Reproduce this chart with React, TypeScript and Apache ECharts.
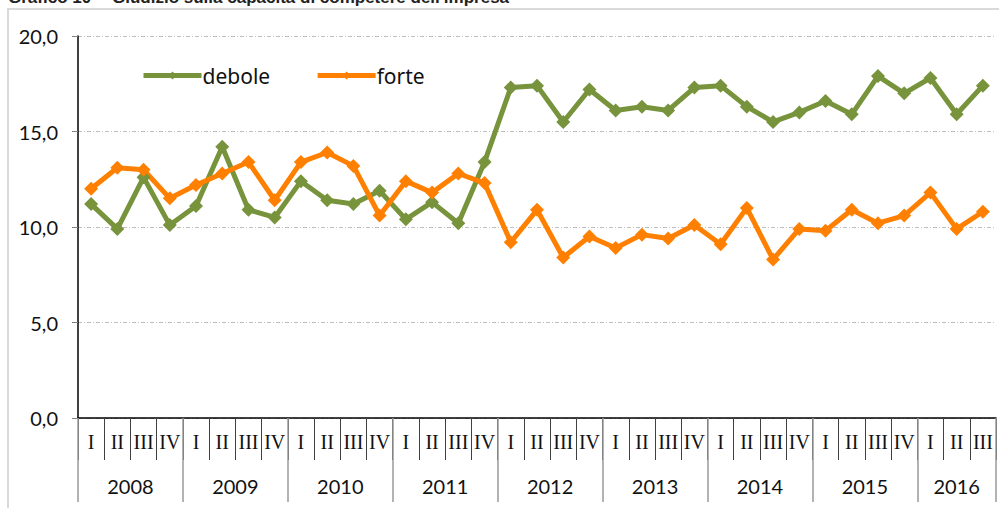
import React, { useEffect, useRef } from "react";
import * as echarts from "echarts";

const years = ["2008", "2009", "2010", "2011", "2012", "2013", "2014", "2015", "2016"];
const quartersPerYear = [4, 4, 4, 4, 4, 4, 4, 4, 3];
const quarterNames = ["I", "II", "III", "IV"];

const debole = [11.2, 9.9, 12.6, 10.1, 11.1, 14.2, 10.9, 10.5, 12.4, 11.4, 11.2, 11.9, 10.4, 11.3, 10.2, 13.4, 17.3, 17.4, 15.5, 17.2, 16.1, 16.3, 16.1, 17.3, 17.4, 16.3, 15.5, 16.0, 16.6, 15.9, 17.9, 17.0, 17.8, 15.9, 17.4];
const forte = [12.0, 13.1, 13.0, 11.5, 12.2, 12.8, 13.4, 11.4, 13.4, 13.9, 13.2, 10.6, 12.4, 11.8, 12.8, 12.3, 9.2, 10.9, 8.4, 9.5, 8.9, 9.6, 9.4, 10.1, 9.1, 11.0, 8.3, 9.9, 9.8, 10.9, 10.2, 10.6, 11.8, 9.9, 10.8];

const titleLabel = "Grafico 10";
const titleText = "Giudizio sulla capacità di competere dell'impresa";

export default function App() {
  const ref = useRef<HTMLDivElement>(null);
  useEffect(() => {
    if (!ref.current) return;
    const chart = echarts.init(ref.current, undefined, { renderer: "svg" });

    const quarters: string[] = [];
    quartersPerYear.forEach((n) => {
      for (let i = 0; i < n; i++) quarters.push(quarterNames[i]);
    });
    const total = quarters.length;
    const halfSlots: string[] = new Array(total * 2 + 1).fill("");
    const boundaries = new Set<number>();
    const labelIdx = new Set<number>();
    let pos = 0;
    years.forEach((y, i) => {
      boundaries.add(pos * 2);
      const mid = pos * 2 + quartersPerYear[i];
      halfSlots[mid] = y;
      labelIdx.add(mid);
      pos += quartersPerYear[i];
    });
    boundaries.add(pos * 2);

    chart.setOption({
      animation: false,
      graphic: [
        {
          type: "rect",
          shape: { x: 8, y: 9, width: 1000, height: 520 },
          style: { fill: "none", stroke: "#d9d9d9", lineWidth: 2 },
          silent: true,
        },
        {
          type: "text",
          x: 8,
          y: 6,
          style: { text: titleLabel, font: "bold 17px 'Liberation Sans', Arial", fill: "#222", verticalAlign: "bottom" },
        },
        {
          type: "text",
          x: 112,
          y: 6,
          style: { text: titleText, font: "bold 17px 'Liberation Sans', Arial", fill: "#222", verticalAlign: "bottom" },
        },
      ],
      legend: {
        left: 136,
        top: 60,
        itemWidth: 58,
        itemHeight: 10,
        itemGap: 45,
        lineStyle: { width: 5 },
        textStyle: { fontFamily: "Noto Sans", fontSize: 21, color: "#111", padding: [0, 0, 0, -4] },
        data: ["debole", "forte"],
      },
      grid: { left: 78, right: 3, top: 36, bottom: 90 },
      xAxis: [
        {
          type: "category",
          data: quarters,
          boundaryGap: true,
          axisLine: { lineStyle: { color: "#000", width: 1.5 } },
          axisTick: { show: true, interval: 0, length: 42, lineStyle: { color: "#404040", width: 1 } },
          axisLabel: { interval: 0, margin: 14, fontFamily: "Liberation Serif", fontSize: 20, color: "#111" },
          splitLine: { show: false },
        },
        {
          type: "category",
          data: halfSlots,
          boundaryGap: false,
          position: "bottom",
          axisLine: { show: false },
          axisTick: {
            show: true,
            length: 84,
            interval: (idx: number) => boundaries.has(idx),
            lineStyle: { color: "#9a9a9a", width: 1.5 },
          },
          axisLabel: {
            interval: (idx: number) => labelIdx.has(idx),
            margin: 58,
            fontFamily: "Lato",
            fontSize: 20,
            color: "#111",
          },
          splitLine: { show: false },
        },
      ],
      yAxis: {
        type: "value",
        min: 0,
        max: 20,
        interval: 5,
        axisLine: { show: true, lineStyle: { color: "#000", width: 1.5 } },
        axisTick: { show: true, length: 6, lineStyle: { color: "#808080" } },
        axisLabel: {
          margin: 20,
          fontFamily: "Lato",
          fontSize: 20,
          color: "#111",
          formatter: (v: number) => v.toFixed(1).replace(".", ","),
        },
        splitLine: { show: true, lineStyle: { color: "#bfbfbf", type: [4, 2, 1, 2], width: 1 } },
      },
      series: [
        {
          name: "debole",
          type: "line",
          data: debole,
          xAxisIndex: 0,
          color: "#77933c",
          symbol: "diamond",
          symbolSize: 14,
          lineStyle: { width: 5, color: "#77933c" },
          itemStyle: { color: "#77933c" },
        },
        {
          name: "forte",
          type: "line",
          data: forte,
          xAxisIndex: 0,
          color: "#ff8000",
          symbol: "diamond",
          symbolSize: 14,
          lineStyle: { width: 5, color: "#ff8000" },
          itemStyle: { color: "#ff8000" },
        },
      ],
    });
    return () => chart.dispose();
  }, []);
  return <div ref={ref} style={{ position: "absolute", left: 0, top: 0, width: 999, height: 508 }} />;
}
